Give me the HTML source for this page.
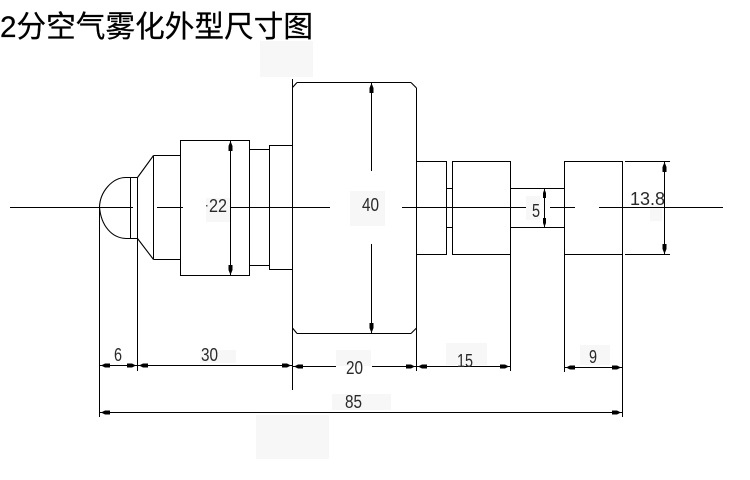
<!DOCTYPE html>
<html><head><meta charset="utf-8">
<style>html,body{margin:0;padding:0;background:#fff;width:750px;height:480px;overflow:hidden}svg{display:block}
text{font-family:"Liberation Sans","Noto Sans CJK SC",sans-serif;fill:#2a2a2a;font-size:18px}</style></head>
<body>
<svg width="750" height="480" viewBox="0 0 750 480" xmlns="http://www.w3.org/2000/svg">
<g fill="#f7f7f7">
<rect x="260" y="41" width="53" height="36"/>
<rect x="256" y="415" width="73" height="44"/>
<rect x="332" y="394" width="59" height="16"/>
<rect x="336" y="350" width="35" height="16"/>
<rect x="200" y="350" width="36" height="13"/>
<rect x="446" y="343" width="41" height="22"/>
<rect x="580" y="345" width="30" height="20"/>
<rect x="350" y="191" width="35" height="35"/>
<rect x="206" y="198" width="24" height="24"/>
<rect x="526" y="196" width="14" height="24"/>
<rect x="650" y="205" width="12" height="16"/>
</g>
<text x="0" y="37" textLength="313" lengthAdjust="spacingAndGlyphs" style="font-size:30px;fill:#000;stroke:#000;stroke-width:.25">2分空气雾化外型尺寸图</text>
<g fill="none" stroke="#000" stroke-width="1.1" shape-rendering="crispEdges">
<path d="M10 207.5H133M157 207.5H183M231 207.5H330M402 207.5H526M550 207.5H575M599 207.5H723"/>
<path d="M130.5 177.5V238.5M137.5 177.5V238.5M126 177.5H137.5M126 238.5H137.5"/>
<path d="M153.5 155.5V259.5M153.5 155.5H180M153.5 259.5H180"/>
<rect x="180.5" y="140.5" width="69" height="135"/>
<path d="M249.5 149.5H269.5M249.5 265.5H269.5"/>
<rect x="269.5" y="145.5" width="23" height="124"/>
<path d="M292.5 79V390"/>
<path d="M297 82.5H411M297 333.5H411M416.5 88V328"/>
<rect x="416.5" y="161.5" width="30" height="93"/>
<rect x="452.5" y="161.5" width="58" height="93"/>
<path d="M446.5 188.5H452.5M446.5 227.5H452.5M510.5 188.5H564.5M510.5 227.5H564.5"/>
<path d="M564.5 161.5H622.5V254.5H564.5ZM564.5 254.5V372M622.5 161.5V417"/>
<path d="M625 161.5H670M625 254.5H670"/>
<path d="M230.5 140V275M371.5 82V171M371.5 244V333M544.5 188V227M664.5 161V254"/>
<path d="M99.5 207V417M137.5 238V371M416.5 254V371M510.5 254V371"/>
<path d="M100 365.5H137M137 365.5H292M292 366.5H336M372 366.5H416M416 366.5H510M564 367.5H622M100 412.5H622"/>
</g>
<g fill="none" stroke="#000" stroke-width="1.1">
<path d="M99.5 207C100 192 112 177.5 126 177.5"/>
<path d="M99.5 207C101 226 112 238 126 238.5"/>
<path d="M137.5 177.5L153.5 155.5M137.5 238.5L153.5 259.5"/>
<path d="M292.5 87.5L297 82.5M411 82.5L416.5 88M292.5 328L297 333.5M411 333.5L416.5 328"/>
</g>
<g fill="#000">
<path d="M230.5 141L232.5 146V151H228.5V146ZM230.5 275L232.5 270V265H228.5V270Z"/>
<path d="M371.5 83L373.5 88V93H369.5V88ZM371.5 333L373.5 328V323H369.5V328Z"/>
<path d="M544.5 189L546 193V198H543V193ZM544.5 227L546 223V218H543V223Z"/>
<path d="M664.5 162L666.5 167V172H662.5V167ZM664.5 254L666.5 249V244H662.5V249Z"/>
<path d="M101 365.5L105 363.5H110V367.5H105ZM136 365.5L132 363.5H127V367.5H132Z"/>
<path d="M139 365.5L143 363.5H148V367.5H143ZM291 365.5L287 363.5H282V367.5H287Z"/>
<path d="M294 366.5L298 364.5H303V368.5H298ZM415 366.5L411 364.5H406V368.5H411Z"/>
<path d="M418 366.5L422 364.5H427V368.5H422ZM509 366.5L505 364.5H500V368.5H505Z"/>
<path d="M566 367.5L570 365.5H575V369.5H570ZM621 367.5L617 365.5H612V369.5H617Z"/>
<path d="M101 412.5L105 410.5H110V414.5H105ZM621 412.5L617 410.5H612V414.5H617Z"/>
</g>
<text x="209" y="212" textLength="18" lengthAdjust="spacingAndGlyphs">22</text>
<rect x="206" y="205" width="1.5" height="1.5" fill="#555"/>
<text x="362" y="211" textLength="17" lengthAdjust="spacingAndGlyphs">40</text>
<text x="532" y="217" textLength="8" lengthAdjust="spacingAndGlyphs">5</text>
<text x="630" y="205" textLength="35" lengthAdjust="spacing">13.8</text>
<text x="114" y="361" textLength="8" lengthAdjust="spacingAndGlyphs">6</text>
<text x="201" y="361" textLength="17" lengthAdjust="spacingAndGlyphs">30</text>
<text x="346" y="374" textLength="17" lengthAdjust="spacingAndGlyphs">20</text>
<text x="457" y="367" textLength="16" lengthAdjust="spacingAndGlyphs">15</text>
<text x="589" y="363" textLength="8" lengthAdjust="spacingAndGlyphs">9</text>
<text x="345" y="408" textLength="17" lengthAdjust="spacingAndGlyphs">85</text>
</svg>
</body></html>
